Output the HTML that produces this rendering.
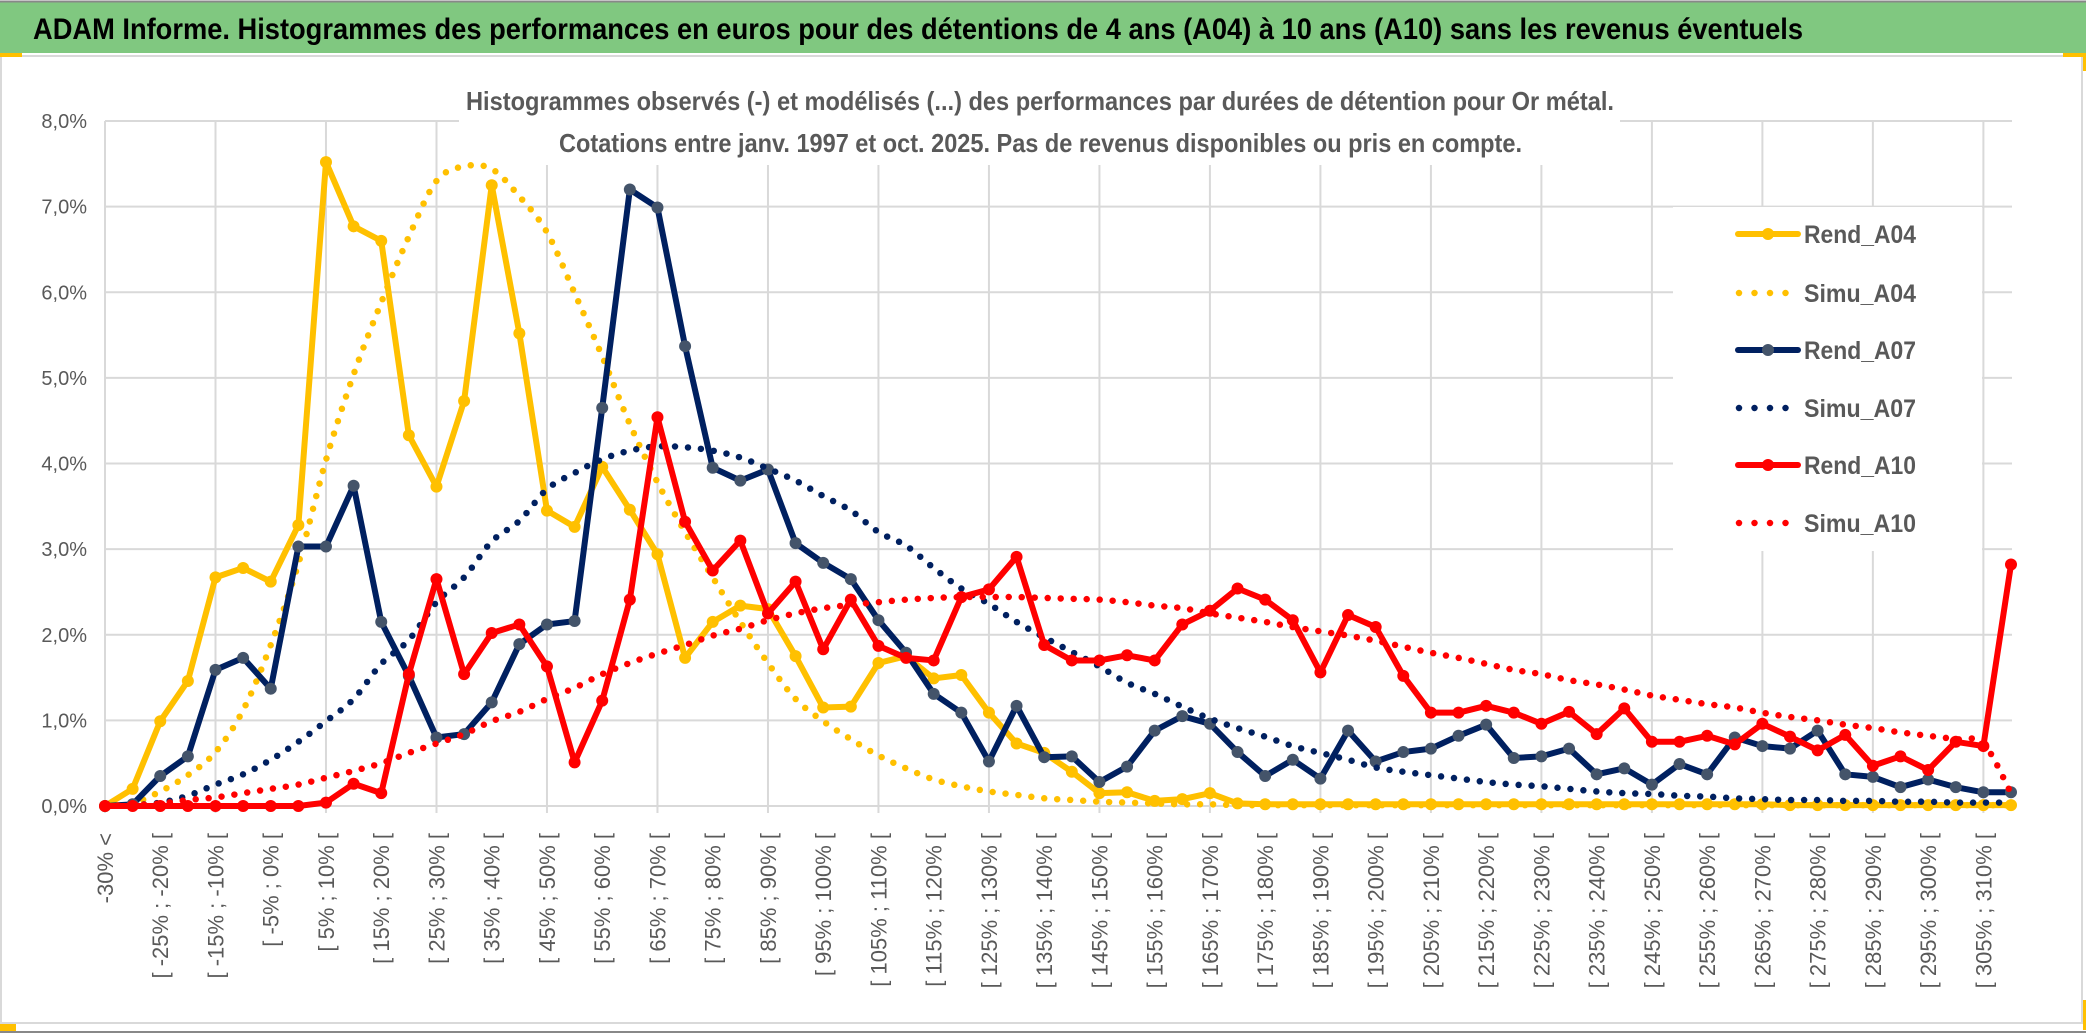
<!DOCTYPE html>
<html><head><meta charset="utf-8"><title>ADAM Informe - Or métal</title>
<style>
html,body{margin:0;padding:0;background:#fff;}
svg{display:block;font-family:"Liberation Sans",sans-serif;}
</style></head>
<body>
<svg id="chart" width="2086" height="1033" viewBox="0 0 2086 1033" xmlns="http://www.w3.org/2000/svg">
  <rect x="0" y="0" width="2086" height="1033" fill="#fff"/>
  <rect x="0" y="2" width="2086" height="51" fill="#80C880"/>
  <line x1="0" y1="1.5" x2="2086" y2="1.5" stroke="#888" stroke-width="2"/>
  <text x="33" y="39" font-size="30" font-weight="bold" fill="#000" textLength="1770" lengthAdjust="spacingAndGlyphs">ADAM Informe. Histogrammes des performances en euros pour des détentions de 4 ans (A04) à 10 ans (A10) sans les revenus éventuels</text>
  <rect x="1" y="56" width="2081" height="967" fill="none" stroke="#d9d9d9" stroke-width="2"/>
  <rect x="0" y="53" width="22" height="4" fill="#FFC000"/>
  <rect x="2063" y="53" width="23" height="4" fill="#FFC000"/>
  <rect x="2083" y="53" width="3" height="18" fill="#FFC000"/>
  <rect x="0" y="1024" width="16" height="7" fill="#FFC000"/>
  <rect x="2083" y="1000" width="3" height="30" fill="#FFC000"/>
  <line x1="0" y1="1032" x2="2086" y2="1032" stroke="#888" stroke-width="2"/>
  <g id="grid"></g>
  <g id="yaxis"></g>
  <g id="xaxis"></g>
  <rect x="459" y="57" width="1161" height="108" fill="#fff"/>
  <text x="466" y="110" font-size="26" font-weight="bold" fill="#595959" textLength="1148" lengthAdjust="spacingAndGlyphs">Histogrammes observés (-) et modélisés (...) des performances par durées de détention pour Or métal.</text>
  <text x="559" y="152" font-size="26" font-weight="bold" fill="#595959" textLength="963" lengthAdjust="spacingAndGlyphs">Cotations entre janv. 1997 et oct. 2025. Pas de revenus disponibles ou pris en compte.</text>
  <g id="series"></g>
  <g id="legend"></g>
</svg>
<script>
const rendA04 = [0,0.2,0.99,1.46,2.67,2.78,2.62,3.28,7.52,6.77,6.6,4.33,3.73,4.73,7.25,5.52,3.45,3.26,3.96,3.46,2.94,1.73,2.15,2.34,2.3,1.75,1.15,1.16,1.67,1.75,1.49,1.53,1.09,0.73,0.62,0.4,0.15,0.16,0.06,0.08,0.15,0.03,0.02,0.02,0.02,0.02,0.02,0.02,0.02,0.02,0.02,0.02,0.02,0.02,0.02,0.02,0.02,0.02,0.02,0.02,0.02,0.01,0.01,0.01,0.01,0.01,0.01,0.01,0.01,0.01];
const simuA04 = [0,0.03,0.17,0.36,0.63,1.12,1.88,2.83,4.04,5.04,5.88,6.65,7.3,7.47,7.44,7.12,6.7,5.99,5.25,4.46,3.78,3.2,2.67,2.15,1.67,1.25,0.99,0.78,0.59,0.44,0.31,0.23,0.17,0.13,0.09,0.07,0.05,0.04,0.03,0.02,0.02,0.01,0.01,0.01,0.01,0.01,0.01,0.01,0.01,0.01,0.01,0.01,0.01,0.01,0.01,0.01,0.01,0.01,0.01,0.01,0.01,0.01,0.01,0.01,0.01,0.01,0.01,0.01,0.01,0.01];
const rendA07 = [0,0.02,0.35,0.58,1.59,1.73,1.37,3.03,3.03,3.74,2.15,1.52,0.8,0.84,1.21,1.89,2.12,2.16,4.65,7.2,6.99,5.37,3.95,3.8,3.93,3.07,2.84,2.65,2.17,1.79,1.31,1.09,0.52,1.17,0.57,0.58,0.28,0.46,0.88,1.05,0.96,0.63,0.35,0.54,0.32,0.88,0.52,0.63,0.67,0.82,0.95,0.56,0.58,0.67,0.37,0.44,0.25,0.49,0.37,0.8,0.7,0.67,0.88,0.37,0.34,0.22,0.31,0.22,0.16,0.16];
const simuA07 = [0,0.01,0.04,0.12,0.25,0.37,0.54,0.75,0.99,1.25,1.66,1.94,2.38,2.67,3.09,3.33,3.7,3.89,4.05,4.15,4.2,4.19,4.15,4.07,3.94,3.8,3.62,3.45,3.2,3.04,2.78,2.54,2.36,2.15,1.97,1.8,1.63,1.44,1.31,1.16,1.02,0.91,0.81,0.7,0.62,0.54,0.45,0.4,0.36,0.32,0.28,0.25,0.23,0.2,0.17,0.15,0.14,0.12,0.11,0.09,0.08,0.07,0.07,0.06,0.06,0.05,0.05,0.04,0.04,0.04];
const rendA10 = [0,0,0,0,0,0,0,0,0.04,0.26,0.15,1.54,2.65,1.54,2.02,2.12,1.63,0.51,1.23,2.41,4.54,3.32,2.75,3.1,2.25,2.62,1.83,2.41,1.87,1.73,1.7,2.44,2.53,2.91,1.88,1.7,1.7,1.76,1.7,2.12,2.28,2.54,2.41,2.17,1.56,2.23,2.09,1.52,1.09,1.09,1.17,1.09,0.96,1.1,0.84,1.14,0.75,0.75,0.82,0.72,0.96,0.81,0.65,0.83,0.47,0.58,0.42,0.75,0.7,2.82];
const simuA10 = [0,0.01,0.03,0.07,0.1,0.15,0.2,0.25,0.33,0.41,0.5,0.62,0.73,0.84,0.99,1.1,1.25,1.38,1.54,1.67,1.78,1.88,1.99,2.07,2.17,2.25,2.31,2.35,2.38,2.41,2.43,2.44,2.44,2.44,2.43,2.42,2.41,2.38,2.34,2.31,2.25,2.2,2.15,2.09,2.04,1.99,1.93,1.86,1.79,1.73,1.66,1.59,1.54,1.47,1.42,1.36,1.29,1.24,1.19,1.15,1.09,1.04,1.0,0.95,0.91,0.86,0.82,0.78,0.73,0.15];
const yTicks = [0,1,2,3,4,5,6,7,8];
const yTickLabels = ["0,0%","1,0%","2,0%","3,0%","4,0%","5,0%","6,0%","7,0%","8,0%"];
const binLows = [-35,-30,-25,-20,-15,-10,-5,0,5,10,15,20,25,30,35,40,45,50,55,60,65,70,75,80,85,90,95,100,105,110,115,120,125,130,135,140,145,150,155,160,165,170,175,180,185,190,195,200,205,210,215,220,225,230,235,240,245,250,255,260,265,270,275,280,285,290,295,300,305,310];
const categories = binLows.map((lo,i)=> i===0 ? "-30% <" : "[ "+lo+"% ; "+(lo+5)+"% [");

const NS="http://www.w3.org/2000/svg";
const X0=105, X1=2011, Y0=806, YTOP=121;
const n=categories.length;
function xs(i){return X0+(X1-X0)*i/(n-1);}
function ys(v){return Y0-(Y0-YTOP)*v/8;}
function mk(tag,attrs,parent){const e=document.createElementNS(NS,tag);for(const k in attrs)e.setAttribute(k,attrs[k]);parent.appendChild(e);return e;}

const grid=document.getElementById('grid');
yTicks.forEach(t=>{
  const l=mk('line',{x1:X0,x2:2012,y1:ys(t),y2:ys(t),stroke:'#d9d9d9','stroke-width':2},grid);
  
  
});
for(let i=0;i<n;i+=4){
  const l=mk('line',{x1:xs(i),x2:xs(i),y1:YTOP,y2:Y0+7,stroke:'#d9d9d9','stroke-width':2},grid);
  
  
}
const yax=document.getElementById('yaxis');
yTicks.forEach((t,k)=>{
  const tx=mk('text',{x:87,y:ys(t)+7,'text-anchor':'end','font-size':20,fill:'#595959'},yax);
  tx.textContent=yTickLabels[k];
  
  
});
const xax=document.getElementById('xaxis');
categories.forEach((c,i)=>{
  if(i%2!==0) return;
  const x=xs(i)+8, y=833;
  const tx=mk('text',{x:x,y:y,'text-anchor':'end','font-size':22,fill:'#595959',transform:`rotate(-90 ${x} ${y})`},xax);
  tx.textContent=c;
  
  
});

function smoothPath(vals){
  const p=vals.map((v,i)=>[xs(i),ys(v)]);
  let d=`M${p[0][0]},${p[0][1]}`;
  for(let i=0;i<p.length-1;i++){
    const p0=p[i-1]||p[i],p1=p[i],p2=p[i+1],p3=p[i+2]||p2;
    const c1=[p1[0]+(p2[0]-p0[0])/6,p1[1]+(p2[1]-p0[1])/6];
    const c2=[p2[0]-(p3[0]-p1[0])/6,p2[1]-(p3[1]-p1[1])/6];
    d+=` C${c1[0]},${c1[1]} ${c2[0]},${c2[1]} ${p2[0]},${p2[1]}`;
  }
  return d;
}
const ser=document.getElementById('series');
function drawSolid(vals,color,marker,name){
  const g=mk('g',{},ser);
  
  
  const pl=mk('polyline',{points:vals.map((v,i)=>xs(i)+','+ys(v)).join(' '),fill:'none',stroke:color,'stroke-width':6,'stroke-linejoin':'round'},g);
  
  
  vals.forEach((v,i)=>{
    const c=mk('circle',{cx:xs(i),cy:ys(v),r:6,fill:marker},g);
    
    
  });
}
function drawDotted(vals,color,name){
  const p=mk('path',{d:smoothPath(vals),fill:'none',stroke:color,'stroke-width':6.5,'stroke-linecap':'round','stroke-dasharray':'0 13'},ser);
  
  
}
drawSolid(rendA04,'#FFC000','#FFC000','rend-a04');
drawDotted(simuA04,'#FFC000','simu-a04');
drawSolid(rendA07,'#002060','#44546A','rend-a07');
drawDotted(simuA07,'#002060','simu-a07');
drawSolid(rendA10,'#FF0000','#FF0000','rend-a10');
drawDotted(simuA10,'#FF0000','simu-a10');

const leg=document.getElementById('legend');
const lb=mk('rect',{x:1673,y:207,width:309,height:344,fill:'#fff'},leg);


const legendNames=["Rend_A04","Simu_A04","Rend_A07","Simu_A07","Rend_A10","Simu_A10"];
const legendColors=["#FFC000","#FFC000","#002060","#002060","#FF0000","#FF0000"];
const legendMarkers=["#FFC000",null,"#44546A",null,"#FF0000",null];
const legendRows=[234,293,350,408,465,523];
legendNames.forEach((nm,k)=>{
  const g=mk('g',{},leg);
  
  
  const y=legendRows[k];
  if(legendMarkers[k]){
    mk('line',{x1:1738,x2:1798,y1:y,y2:y,stroke:legendColors[k],'stroke-width':6,'stroke-linecap':'round'},g);
    mk('circle',{cx:1768,cy:y,r:6,fill:legendMarkers[k]},g);
  } else {
    mk('line',{x1:1739,x2:(k===5?1795:1786),y1:y,y2:y,stroke:legendColors[k],'stroke-width':6.5,'stroke-linecap':'round','stroke-dasharray':'0 15.5'},g);
  }
  const t=mk('text',{x:1804,y:y+9,'font-size':25,'font-weight':'bold',fill:'#595959',textLength:112,lengthAdjust:'spacingAndGlyphs'},g);
  t.textContent=nm;
});
</script>
</body></html>
